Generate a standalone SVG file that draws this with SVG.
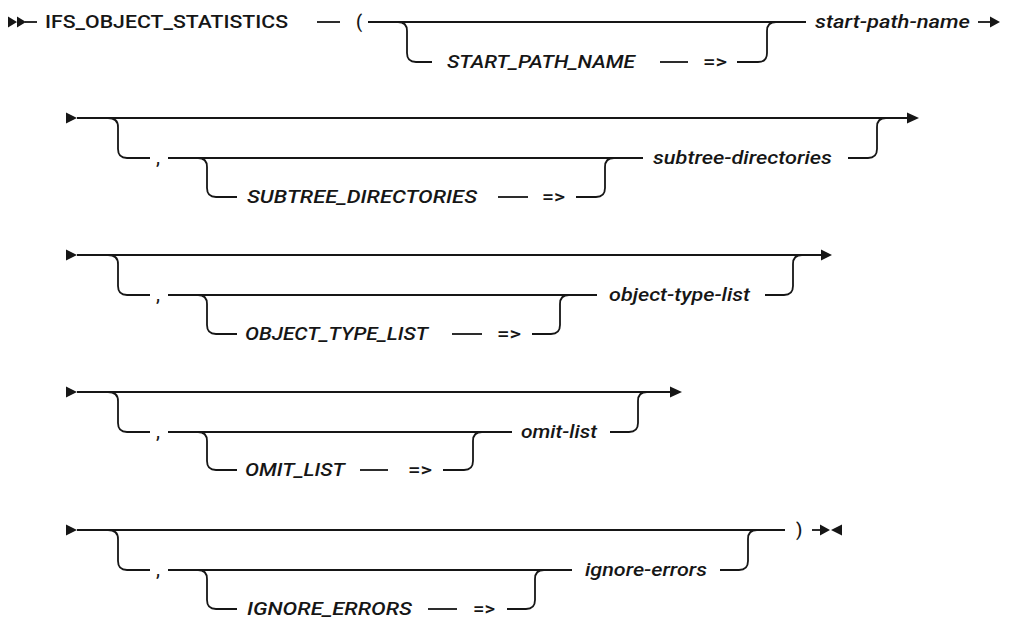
<svg xmlns="http://www.w3.org/2000/svg" width="1018" height="624" viewBox="0 0 1018 624">
<style>
.t{font-family:Roboto,"Liberation Sans",sans-serif;font-size:18px;font-weight:500;fill:#161616}
.i{font-style:italic}
.c{fill:none;stroke:#161616;stroke-width:1.8}
.a{fill:#161616;stroke:none}
</style>
<rect width="1018" height="624" fill="#ffffff"/>
<g id="connectors">
  <!-- row 1 -->
  <path class="a" d="M8 16.5 L17 22 L8 27.5 Z M17 16.5 L26 22 L17 27.5 Z"/>
  <path class="c" d="M25 22 H37"/>
  <path class="c" d="M317 22 H340"/>
  <path class="c" d="M368 22 H806"/>
  <path class="c" d="M398 22 Q407 22 407 31 V53 Q407 62 416 62 H432"/>
  <path class="c" d="M660 62 H688"/>
  <path class="c" d="M737 62 H758 Q767 62 767 53 V31 Q767 22 776 22"/>
  <path class="c" d="M978 22 H991"/>
  <path class="a" d="M990 16.5 L1000 22 L990 27.5 Z"/>
  <!-- row 2 -->
  <path class="a" d="M66 112.5 L77 118 L66 123.5 Z"/>
  <path class="c" d="M77 118 H908"/>
  <path class="a" d="M907 112.5 L919 118 L907 123.5 Z"/>
  <path class="c" d="M108 118 Q118 118 118 127 V149 Q118 158 127 158 H150"/>
  <path class="c" d="M168 158 H643"/>
  <path class="c" d="M198 158 Q207 158 207 167 V188 Q207 197 216 197 H237"/>
  <path class="c" d="M498 197 H528"/>
  <path class="c" d="M576 197 H596 Q605 197 605 188 V167 Q605 158 614 158"/>
  <path class="c" d="M848 158 H868 Q877 158 877 149 V127 Q877 118 886 118"/>
  <!-- row 3 -->
  <path class="a" d="M66 249.5 L77 255 L66 260.5 Z"/>
  <path class="c" d="M77 255 H822"/>
  <path class="a" d="M821 249.5 L832 255 L821 260.5 Z"/>
  <path class="c" d="M108 255 Q118 255 118 264 V286 Q118 295 127 295 H150"/>
  <path class="c" d="M168 295 H597"/>
  <path class="c" d="M198 295 Q207 295 207 304 V325 Q207 334 216 334 H237"/>
  <path class="c" d="M452 334 H482"/>
  <path class="c" d="M532 334 H551 Q560 334 560 325 V304 Q560 295 569 295"/>
  <path class="c" d="M765 295 H784 Q793 295 793 286 V264 Q793 255 802 255"/>
  <!-- row 4 -->
  <path class="a" d="M66 386.5 L77 392 L66 397.5 Z"/>
  <path class="c" d="M77 392 H671"/>
  <path class="a" d="M670 386.5 L682 392 L670 397.5 Z"/>
  <path class="c" d="M108 392 Q118 392 118 401 V423 Q118 432 127 432 H150"/>
  <path class="c" d="M168 432 H512"/>
  <path class="c" d="M198 432 Q207 432 207 441 V461 Q207 470 216 470 H237"/>
  <path class="c" d="M360 470 H388"/>
  <path class="c" d="M443 470 H464 Q473 470 473 461 V441 Q473 432 482 432"/>
  <path class="c" d="M610 432 H629 Q638 432 638 423 V401 Q638 392 647 392"/>
  <!-- row 5 -->
  <path class="a" d="M66 524.5 L77 530 L66 535.5 Z"/>
  <path class="c" d="M77 530 H785"/>
  <path class="c" d="M108 530 Q118 530 118 539 V561 Q118 570 127 570 H150"/>
  <path class="c" d="M168 570 H572"/>
  <path class="c" d="M198 570 Q207 570 207 579 V600 Q207 609 216 609 H237"/>
  <path class="c" d="M428 609 H457"/>
  <path class="c" d="M507 609 H526 Q535 609 535 600 V579 Q535 570 544 570"/>
  <path class="c" d="M720 570 H739 Q748 570 748 561 V539 Q748 530 757 530"/>
  <path class="c" d="M812 530 H821"/>
  <path class="a" d="M820 524.5 L830 530 L820 535.5 Z M842 524.5 L831 530 L842 535.5 Z"/>
</g>
<g id="node-ifs"><text class="t" x="45" y="28" textLength="243" lengthAdjust="spacingAndGlyphs">IFS_OBJECT_STATISTICS</text></g>
<g id="node-lparen"><text class="t" x="356" y="28">(</text></g>
<g id="node-start-kw"><text class="t i" x="447" y="68" textLength="188" lengthAdjust="spacingAndGlyphs">START_PATH_NAME</text></g>
<g id="node-arrow1"><text class="t" x="703" y="68" textLength="24" lengthAdjust="spacingAndGlyphs">=&gt;</text></g>
<g id="node-start-path-name"><text class="t i" x="815" y="28" textLength="155" lengthAdjust="spacingAndGlyphs">start-path-name</text></g>

<g id="node-comma2"><text class="t" x="156" y="164">,</text></g>
<g id="node-subtree-kw"><text class="t i" x="247" y="203" textLength="230" lengthAdjust="spacingAndGlyphs">SUBTREE_DIRECTORIES</text></g>
<g id="node-arrow2"><text class="t" x="542" y="203" textLength="23" lengthAdjust="spacingAndGlyphs">=&gt;</text></g>
<g id="node-subtree-directories"><text class="t i" x="653" y="164" textLength="179" lengthAdjust="spacingAndGlyphs">subtree-directories</text></g>

<g id="node-comma3"><text class="t" x="156" y="301">,</text></g>
<g id="node-otl-kw"><text class="t i" x="245" y="340" textLength="183" lengthAdjust="spacingAndGlyphs">OBJECT_TYPE_LIST</text></g>
<g id="node-arrow3"><text class="t" x="497" y="340" textLength="24" lengthAdjust="spacingAndGlyphs">=&gt;</text></g>
<g id="node-object-type-list"><text class="t i" x="609" y="301" textLength="141" lengthAdjust="spacingAndGlyphs">object-type-list</text></g>

<g id="node-comma4"><text class="t" x="156" y="438">,</text></g>
<g id="node-omit-kw"><text class="t i" x="245" y="476" textLength="100" lengthAdjust="spacingAndGlyphs">OMIT_LIST</text></g>
<g id="node-arrow4"><text class="t" x="408" y="476" textLength="24" lengthAdjust="spacingAndGlyphs">=&gt;</text></g>
<g id="node-omit-list"><text class="t i" x="521" y="438" textLength="76" lengthAdjust="spacingAndGlyphs">omit-list</text></g>

<g id="node-comma5"><text class="t" x="156" y="576">,</text></g>
<g id="node-ignore-kw"><text class="t i" x="247" y="615" textLength="165" lengthAdjust="spacingAndGlyphs">IGNORE_ERRORS</text></g>
<g id="node-arrow5"><text class="t" x="473" y="615" textLength="22" lengthAdjust="spacingAndGlyphs">=&gt;</text></g>
<g id="node-ignore-errors"><text class="t i" x="585" y="576" textLength="122" lengthAdjust="spacingAndGlyphs">ignore-errors</text></g>
<g id="node-rparen"><text class="t" x="796" y="536">)</text></g>
</svg>
